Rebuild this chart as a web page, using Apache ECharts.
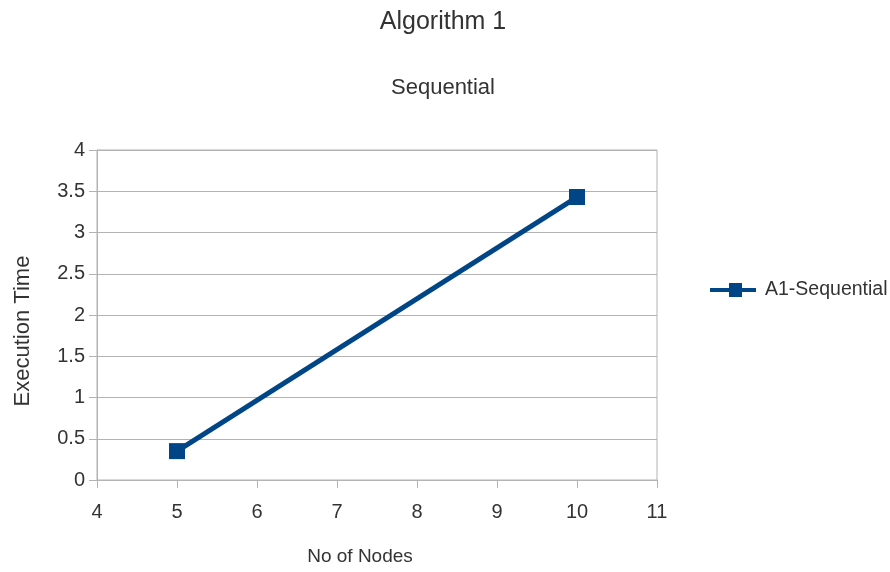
<!DOCTYPE html>
<html><head><meta charset="utf-8">
<script src="https://cdn.jsdelivr.net/npm/echarts@6/dist/echarts.min.js"></script>
<style>html,body{margin:0;padding:0;background:#fff}#c{width:890px;height:572px}</style>
</head><body><div id="c"></div>
<script>
const xValues = [5, 10];
const yValues = [0.35, 3.43];
const seriesName = 'A1-Sequential';
const titleText = 'Algorithm 1';
const subtitleText = 'Sequential';
const xAxisName = 'No of Nodes';
const yAxisName = 'Execution Time';

const chart = echarts.init(document.getElementById('c'));
const font = '"Liberation Sans", sans-serif';
chart.setOption({
  animation: false,
  backgroundColor: '#fff',
  title: [
    {text: titleText, left: 438, top: 5, textAlign: 'center',
     textStyle: {fontFamily: font, fontSize: 25, fontWeight: 'normal', color: '#333'}},
    {text: subtitleText, left: 438, top: 72, textAlign: 'center',
     textStyle: {fontFamily: font, fontSize: 22, fontWeight: 'normal', color: '#333'}}
  ],
  legend: {
    left: 705, top: 275, orient: 'vertical',
    itemWidth: 46, itemHeight: 14, itemGap: 5,
    icon: 'path://M0,5L19,5L19,0L32,0L32,5L46,5L46,9L32,9L32,14L19,14L19,9L0,9Z',
    textStyle: {fontFamily: font, fontSize: 19.5, color: '#333', padding: [0, 0, 0, 4]},
    data: [seriesName]
  },
  grid: {left: 97, right: 233, top: 150, bottom: 92, show: true, borderColor: '#b3b3b3', borderWidth: 1},
  xAxis: {
    type: 'value', min: 4, max: 11, interval: 1,
    name: xAxisName, nameLocation: 'middle', nameGap: 67,
    nameTextStyle: {fontFamily: font, fontSize: 19, color: '#333', padding: [0, 34, 0, 0]},
    axisLine: {show: true, lineStyle: {color: '#b3b3b3'}},
    axisTick: {show: true, length: 8, lineStyle: {color: '#b3b3b3'}},
    axisLabel: {fontFamily: font, fontSize: 20, color: '#333', margin: 22},
    splitLine: {show: false}
  },
  yAxis: {
    type: 'value', min: 0, max: 4, interval: 0.5,
    name: yAxisName, nameLocation: 'middle', nameGap: 63, nameRotate: 90,
    nameTextStyle: {fontFamily: font, fontSize: 22, color: '#333', padding: [0, 32, 0, 0]},
    axisLine: {show: true, lineStyle: {color: '#b3b3b3'}},
    axisTick: {show: true, length: 8, lineStyle: {color: '#b3b3b3'}},
    axisLabel: {fontFamily: font, fontSize: 20, color: '#333', margin: 12},
    splitLine: {show: true, lineStyle: {color: '#b3b3b3'}}
  },
  series: [{
    name: seriesName, type: 'line',
    data: xValues.map((x, i) => [x, yValues[i]]),
    symbol: 'rect', symbolSize: 16,
    lineStyle: {color: '#004586', width: 5},
    itemStyle: {color: '#004586'}
  }]
});
</script></body></html>
